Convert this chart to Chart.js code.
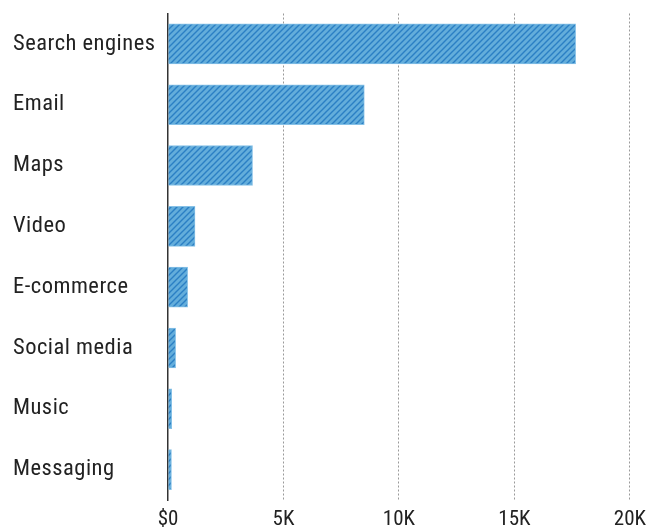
<!DOCTYPE html>
<html>
<head>
<meta charset="utf-8">
<script src="https://cdn.jsdelivr.net/npm/chart.js@4"></script>
<style>
html,body{margin:0;padding:0;background:#fff;}
#wrap{width:653px;height:529px;}
</style>
</head>
<body>
<div id="wrap"><canvas id="c"></canvas></div>
<script>
const categories = ["Search engines","Email","Maps","Video","E-commerce","Social media","Music","Messaging"];
const values = [17650, 8500, 3660, 1170, 850, 330, 160, 150];
const tickValues = [0, 5000, 10000, 15000, 20000];
const tickLabels = ["$0", "5K", "10K", "15K", "20K"];

const FONT = "'Roboto Condensed','Liberation Sans Narrow','DejaVu Sans Condensed',sans-serif";

function makePattern() {
  const s = 6;
  const pc = document.createElement('canvas');
  pc.width = s; pc.height = s;
  const g = pc.getContext('2d');
  g.fillStyle = '#63addb';
  g.fillRect(0, 0, s, s);
  g.strokeStyle = '#2b7fc4';
  g.lineWidth = 1.4;
  g.beginPath();
  g.moveTo(0, s); g.lineTo(s, 0);
  g.moveTo(-s/2, s/2); g.lineTo(s/2, -s/2);
  g.moveTo(s/2, s*1.5); g.lineTo(s*1.5, s/2);
  g.stroke();
  return g.createPattern(pc, 'repeat');
}

const spacingPlugin = {
  id: 'labelSpacing',
  afterLayout(chart) {
    const sc = chart.scales.y;
    if (sc._spacedPatched) return;
    const orig = sc.drawLabels;
    sc.drawLabels = function(area) {
      const c = this.ctx;
      c.save();
      c.letterSpacing = '0.5px';
      orig.call(this, area);
      c.restore();
    };
    sc._spacedPatched = true;
  }
};

const ctx = document.getElementById('c').getContext('2d');
new Chart(ctx, {
  type: 'bar',
  data: {
    labels: categories,
    datasets: [{
      data: values,
      backgroundColor: makePattern(),
      borderColor: '#86c1e7',
      borderWidth: 1,
      borderSkipped: 'left',
      barThickness: 40
    }]
  },
  plugins: [spacingPlugin],
  options: {
    indexAxis: 'y',
    responsive: true,
    maintainAspectRatio: false,
    animation: false,
    devicePixelRatio: 1,
    layout: { padding: { left: 13, right: 14, top: 0, bottom: 0 } },
    plugins: { legend: { display: false }, tooltip: { enabled: false } },
    scales: {
      x: {
        min: 0, max: 20000,
        afterBuildTicks: (scale) => { scale.ticks = tickValues.map(v => ({ value: v })); },
        afterFit: (scale) => { scale.height = 29; },
        ticks: {
          callback: (v, i) => tickLabels[i],
          color: '#222',
          font: { family: FONT, size: 21 },
          padding: 7,
          maxRotation: 0
        },
        grid: {
          drawTicks: false,
          color: (c) => c.index === 0 ? 'rgba(0,0,0,0)' : '#9a9a9a',
          lineWidth: 1
        },
        border: { display: false, dash: [2, 2] }
      },
      y: {
        afterFit: (scale) => { scale.width = 155; },
        ticks: {
          crossAlign: 'far',
          color: '#222',
          font: { family: FONT, size: 22.5 },
          padding: 0
        },
        grid: { display: false, drawTicks: false },
        border: { display: true, color: '#333', width: 1.5 }
      }
    }
  }
});
</script>
</body>
</html>
